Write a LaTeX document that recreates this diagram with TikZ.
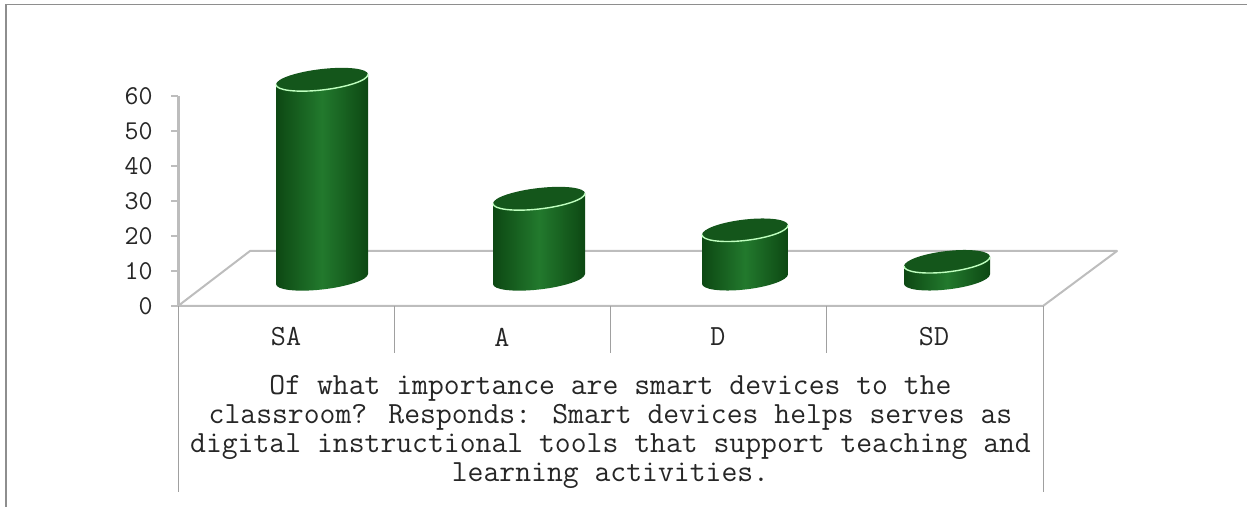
\documentclass[tikz,border=0pt]{standalone}
\definecolor{cyldark}{HTML}{0D4813}
\definecolor{cylmid}{HTML}{22792D}
\definecolor{cyltop}{HTML}{14561B}
\definecolor{framegray}{HTML}{8E8E8E}
\definecolor{axisgray}{HTML}{BDBDBD}
\definecolor{divgray}{HTML}{A0A0A0}
\tikzset{
	floorline/.style={axisgray, line width=1pt, line join=round},
	divline/.style={divgray, line width=0.5pt},
	cylside/.style={left color=cyldark, right color=cyldark, middle color=cylmid},
	ylab/.style={anchor=east, inner sep=0pt, font=\ttfamily\fontsize{13.6}{15}\selectfont, text=black!85},
	catlab/.style={inner sep=0pt, font=\ttfamily\fontsize{14.6}{15}\selectfont, text=black!85},
	titlelab/.style={inner sep=0pt, align=center, font=\ttfamily\fontsize{15.4}{14.5}\selectfont, text=black!85}
}
% cylinder: centre x, top y, half width
\newcommand{\cylbar}[3]{
	\begin{scope}[shift={(#1,279)}, yslant=0.11]
		\shade[cylside] (-#3,#2-279) -- (-#3,0) arc[start angle=180, end angle=0, x radius=#3, y radius=10.5] -- (#3,#2-279) arc[start angle=0, end angle=180, x radius=#3, y radius=10.5] -- cycle;
		\fill[cyltop] (0,#2-279) ellipse[x radius=#3, y radius=10.5];
		\draw[white!75!green, line width=0.7pt] (#3,#2-279) arc[start angle=0, end angle=180, x radius=#3, y radius=10.5];
	\end{scope}
}
\begin{document}
\begin{tikzpicture}[x=0.5pt, y=-0.5pt]
		\useasboundingbox (0,0) rectangle (1247,507);
		\draw[framegray, line width=0.75pt] (6,507) -- (6,4.5) -- (1247,4.5);
		% floor and axis
		\draw[floorline] (178,306) -- (250,251) -- (1117,251) -- (1043,306) -- cycle;
		\draw[axisgray, line width=1.5pt] (178,96) -- (178,306);
		\foreach \v in {0,10,...,60} {
			\draw[axisgray, line width=0.75pt] (171,306-3.5*\v) -- (178,306-3.5*\v);
			\node[ylab] (y\v) at (153,306-3.5*\v) {\v};
		}
		% category grid
		\foreach \x in {394,610,826} \draw[divline] (\x,306) -- (\x,353);
		\draw[divline] (178,306) -- (178,492);
		\draw[divline] (1043,306) -- (1043,492);
		% bars
		\cylbar{322}{79.5}{46}
		\cylbar{539}{198.5}{46}
		\cylbar{745}{230}{43}
		\cylbar{947}{261.5}{43}
		\node[catlab] (sa) at (286,337) {SA};
		\node[catlab] (a) at (502,337) {A};
		\node[catlab] (d) at (718,337) {D};
		\node[catlab] (sd) at (934,337) {SD};
		\node[titlelab] (title) at (610.5,431.5) {Of what importance are smart devices to the\\classroom? Responds: Smart devices helps serves as\\digital instructional tools that support teaching and\\learning activities.};
	\end{tikzpicture}
\end{document}
